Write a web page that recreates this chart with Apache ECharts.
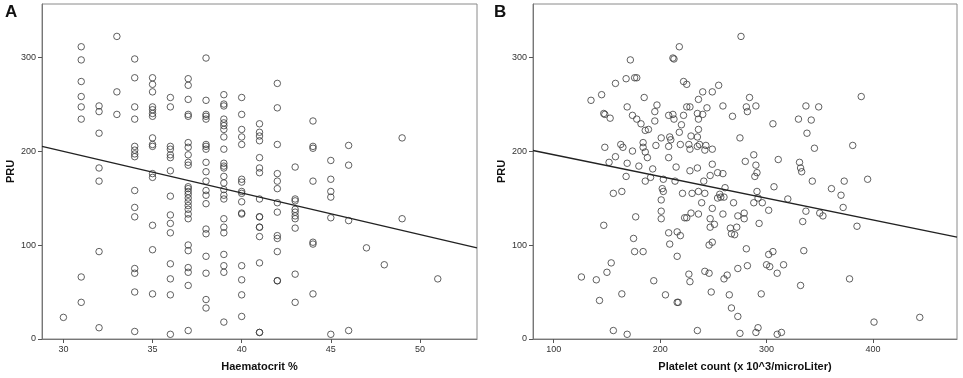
<!DOCTYPE html>
<html>
<head>
<meta charset="utf-8">
<script src="https://cdn.jsdelivr.net/npm/echarts@6/dist/echarts.min.js"></script>
<style>
  html, body { margin: 0; padding: 0; background: #fff; }
  #chart { width: 963px; height: 378px; }
</style>
</head>
<body>
<div id="chart"></div>
<script>
// Panel A: PRU readings grouped by haematocrit %
const hctLevels = [30, 31, 32, 33, 34, 35, 36, 37, 38, 39, 40, 41, 42, 43, 44, 45, 46, 47, 48, 49, 51];
const pruByHct = [
  [23],
  [311, 297, 274, 258, 247, 234, 66, 39],
  [248, 242, 219, 182, 168, 93, 12],
  [322, 263, 239],
  [298, 278, 247, 234, 205, 201, 197, 194, 158, 140, 130, 75, 70, 50, 8],
  [278, 271, 263, 247, 244, 240, 237, 214, 207, 205, 176, 172, 121, 95, 48],
  [257, 247, 205, 202, 196, 193, 179, 152, 132, 123, 113, 80, 64, 47, 5],
  [277, 270, 255, 239, 237, 209, 204, 196, 188, 185, 162, 160, 157, 154, 150, 146, 142, 138, 133, 128, 100, 94, 76, 71, 57, 9],
  [299, 254, 239, 237, 234, 207, 205, 202, 188, 178, 168, 158, 153, 144, 117, 112, 88, 70, 42, 33],
  [260, 250, 248, 234, 230, 227, 223, 215, 202, 187, 184, 182, 173, 166, 159, 153, 149, 128, 119, 113, 90, 78, 71, 18],
  [257, 239, 223, 215, 207, 170, 167, 157, 155, 146, 134, 133, 78, 63, 47, 24],
  [229, 220, 216, 211, 193, 182, 177, 149, 130, 130, 119, 119, 109, 81, 7, 7],
  [272, 246, 207, 176, 168, 160, 145, 135, 110, 107, 93, 62, 62],
  [183, 149, 147, 138, 135, 131, 128, 118, 69, 39],
  [232, 205, 203, 168, 103, 101, 48],
  [190, 170, 157, 151, 129, 5],
  [206, 185, 126, 9],
  [97],
  [79],
  [214, 128],
  [64]
];
const fitA = [[28.8, 205], [53.2, 97]];

// Panel B: [platelet count, PRU]
const plateletPru = [
  [276, 322], [218, 311], [172, 297], [212, 299], [213, 298], [222, 274], [225, 271], [158, 272], [255, 270],
  [168, 277], [176, 278], [178, 278], [240, 263], [249, 263], [145, 260], [135, 254], [185, 257], [236, 255],
  [284, 257], [389, 258], [169, 247], [197, 249], [225, 247], [228, 247], [244, 246], [259, 248], [281, 247],
  [290, 248], [337, 248], [349, 247], [147, 240], [148, 239], [153, 235], [174, 238], [178, 234], [182, 229],
  [186, 222], [189, 223], [195, 242], [195, 232], [208, 238], [212, 239], [213, 234], [222, 238], [235, 240],
  [240, 239], [236, 234], [268, 237], [282, 242], [220, 228], [218, 220], [236, 223], [229, 216], [235, 215],
  [209, 215], [210, 212], [201, 214], [275, 214], [306, 229], [330, 234], [342, 233], [338, 219], [345, 203],
  [381, 206], [148, 204], [163, 207], [165, 204], [174, 200], [158, 194], [152, 188], [169, 187], [180, 184],
  [168, 173], [184, 209], [184, 204], [186, 199], [188, 193], [193, 181], [196, 206], [191, 172], [208, 205],
  [208, 193], [215, 183], [219, 207], [227, 207], [228, 202], [228, 179], [235, 205], [237, 207], [235, 182],
  [242, 201], [243, 206], [249, 202], [249, 186], [247, 174], [254, 177], [259, 176], [288, 196], [280, 189],
  [290, 185], [291, 177], [289, 173], [311, 191], [331, 188], [332, 182], [333, 178],
  [186, 168], [203, 170], [214, 168], [241, 168], [343, 168], [373, 168], [395, 170], [156, 155], [164, 157],
  [202, 160], [203, 157], [221, 155], [230, 155], [236, 157], [242, 155], [256, 154], [257, 151], [260, 151],
  [261, 161], [254, 150], [291, 157], [307, 162], [320, 149], [361, 160], [370, 153], [201, 148], [239, 145],
  [269, 145], [288, 145], [296, 145], [292, 150], [249, 139], [372, 140], [201, 136], [201, 128], [229, 134],
  [236, 133], [223, 129], [225, 129], [259, 133], [273, 131], [279, 134], [279, 128], [302, 137], [337, 136],
  [350, 134], [353, 131], [334, 125], [293, 123], [247, 128], [251, 122], [247, 119], [177, 130], [147, 121],
  [385, 120], [266, 118], [272, 119], [267, 112], [270, 111], [208, 113], [216, 114], [219, 110], [175, 107],
  [209, 101], [249, 103], [246, 100], [176, 93], [184, 93], [281, 96], [306, 93], [335, 94], [302, 90],
  [216, 88], [154, 81], [300, 79], [303, 77], [282, 78], [316, 79], [273, 75], [242, 72], [246, 70], [150, 71],
  [227, 69], [263, 68], [310, 70], [126, 66], [140, 63], [260, 64], [378, 64], [228, 61], [194, 62], [332, 57],
  [164, 48], [205, 47], [248, 50], [265, 47], [295, 48], [143, 41], [216, 39], [217, 39], [267, 33], [273, 24],
  [444, 23], [401, 18], [156, 9], [169, 5], [235, 9], [275, 6], [292, 12], [290, 7], [310, 5], [314, 7]
];
const fitB = [[80.5, 200.6], [479, 108.5]];

const pruTicks = [0, 100, 200, 300];
const hctTicks = [30, 35, 40, 45, 50];
const plateletTicks = [100, 200, 300, 400];

const hctPoints = [];
hctLevels.forEach((h, i) => {
  pruByHct[i].forEach((v) => hctPoints.push([h, v]));
});

const chart = echarts.init(document.getElementById("chart"));

const labelStyle = { color: "#333", fontSize: 9, fontFamily: "Liberation Sans, Arial" };
const nameStyle = { color: "#111", fontSize: 11, fontWeight: "bold", fontFamily: "Liberation Sans, Arial" };

function makeXAxis(gridIndex, min, max, ticks, name) {
  return {
    type: "value",
    gridIndex,
    min,
    max,
    name,
    nameLocation: "middle",
    nameGap: 22,
    nameTextStyle: nameStyle,
    axisLine: { show: true, lineStyle: { color: "#777", width: 1 } },
    axisTick: { show: true, length: 4, customValues: ticks, lineStyle: { color: "#555" } },
    axisLabel: { ...labelStyle, margin: 6, customValues: ticks },
    splitLine: { show: false },
  };
}

function makeYAxis(gridIndex) {
  return {
    type: "value",
    gridIndex,
    min: 0,
    max: 356.5,
    name: "PRU",
    nameLocation: "middle",
    nameRotate: 90,
    nameGap: 26,
    nameTextStyle: nameStyle,
    axisLine: { show: true, lineStyle: { color: "#777", width: 1 } },
    axisTick: { show: true, length: 4, customValues: pruTicks, lineStyle: { color: "#555" } },
    axisLabel: { ...labelStyle, margin: 6, customValues: pruTicks },
    splitLine: { show: false },
  };
}

const scatterStyle = {
  type: "scatter",
  symbol: "circle",
  symbolSize: 6.5,
  itemStyle: { color: "rgba(0,0,0,0)", borderColor: "#3a3a3a", borderWidth: 1 },
  silent: true,
};

const fitStyle = {
  type: "line",
  symbol: "none",
  lineStyle: { color: "#222", width: 1.3 },
  silent: true,
  z: 3,
};

chart.setOption({
  animation: false,
  grid: [
    { left: 42, top: 4, width: 435, height: 335, show: true, borderColor: "#8a8a8a", borderWidth: 1, backgroundColor: "#fff" },
    { left: 533, top: 4, width: 424, height: 335, show: true, borderColor: "#8a8a8a", borderWidth: 1, backgroundColor: "#fff" },
  ],
  xAxis: [
    makeXAxis(0, 28.8, 53.2, hctTicks, "Haematocrit %"),
    makeXAxis(1, 80.5, 479, plateletTicks, "Platelet count (x 10^3/microLiter)"),
  ],
  yAxis: [makeYAxis(0), makeYAxis(1)],
  graphic: [
    { type: "text", left: 5, top: 4, style: { text: "A", font: "bold 17px Liberation Sans, Arial", fill: "#111" } },
    { type: "text", left: 494, top: 4, style: { text: "B", font: "bold 17px Liberation Sans, Arial", fill: "#111" } },
  ],
  series: [
    { ...scatterStyle, xAxisIndex: 0, yAxisIndex: 0, data: hctPoints },
    { ...fitStyle, xAxisIndex: 0, yAxisIndex: 0, data: fitA },
    { ...scatterStyle, xAxisIndex: 1, yAxisIndex: 1, data: plateletPru },
    { ...fitStyle, xAxisIndex: 1, yAxisIndex: 1, data: fitB },
  ],
});
</script>
</body>
</html>
